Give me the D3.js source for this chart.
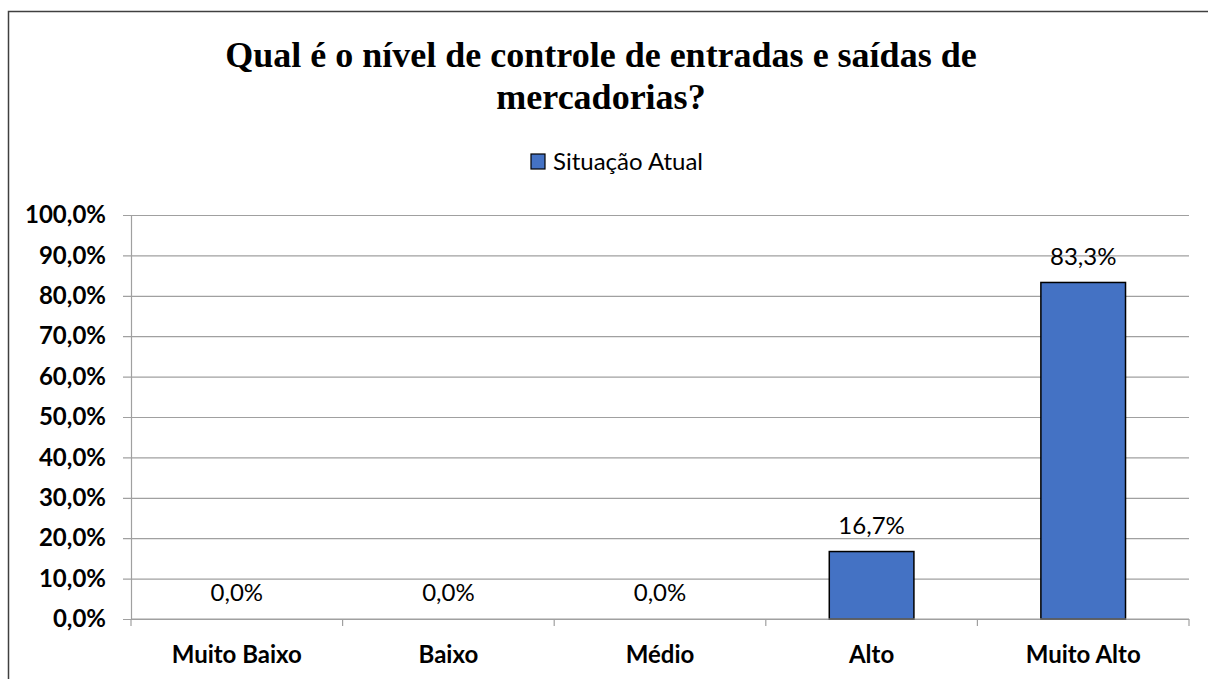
<!DOCTYPE html>
<html>
<head>
<meta charset="utf-8">
<script src="https://cdn.jsdelivr.net/npm/d3@7"></script>
<style>
  html, body { margin: 0; background: #fff; overflow: hidden; }
  svg { display: block; overflow: hidden; }
  .tick text { font-family: Lato, "Open Sans", sans-serif; font-weight: bold; font-size: 24px; fill: #000; }
</style>
</head>
<body>
<svg id="chart" width="1208" height="679"></svg>
<script>
// Chart data
const categories = ["Muito Baixo", "Baixo", "Médio", "Alto", "Muito Alto"];
const values = [0.0, 0.0, 0.0, 16.7, 83.3];
const seriesName = "Situação Atual";
const titleLines = ["Qual é o nível de controle de entradas e saídas de", "mercadorias?"];
const yTicks = [0, 10, 20, 30, 40, 50, 60, 70, 80, 90, 100];

const node = d3.select("#chart"),
      margin = {top: 215, right: 19, bottom: 60, left: 131},
      width = 1208 - margin.left - margin.right,
      height = 619 - margin.top;

const fmt = (v) => d3.format(".1f")(v).replace(".", ",") + "%";

// outer frame: only the top and left edges fall inside the picture
node.append("path")
  .attr("d", "M8.5,679 L8.5,11.5 L1208,11.5")
  .attr("fill", "none")
  .attr("stroke", "#404040")
  .attr("stroke-width", 1.5);

// title
node.append("text")
  .attr("x", 601)
  .attr("y", 67)
  .attr("text-anchor", "middle")
  .style("font", "bold 36px 'Liberation Serif', 'Times New Roman', serif")
  .selectAll("tspan")
  .data(titleLines)
  .enter()
  .append("tspan")
  .attr("x", 601)
  .attr("dy", (d, i) => i === 0 ? 0 : 42)
  .text((d) => d);

// legend
const legend = node.append("g").attr("transform", "translate(531, 154)");
legend.append("rect")
  .attr("width", 14).attr("height", 15)
  .attr("fill", "#4472C4")
  .attr("stroke", "#000")
  .attr("stroke-width", 1.2);
legend.append("text")
  .attr("x", 22)
  .attr("y", 8)
  .attr("dy", "0.35em")
  .style("font", "24px Lato, 'Open Sans', sans-serif")
  .text(seriesName);

const g = node.append("g")
  .attr("transform", `translate(${margin.left}, ${margin.top})`);

const xScale = d3.scaleBand().domain(categories).range([0, width]).padding(0),
      yScale = d3.scaleLinear().domain([0, 100]).range([height, 0]);

// gridlines + y axis
const yAxis = g.append("g")
  .call(d3.axisLeft(yScale).tickValues(yTicks).tickSize(8).tickPadding(17).tickFormat(fmt));
yAxis.select(".domain").attr("stroke", "#a0a0a0").attr("stroke-width", 1.2);
yAxis.selectAll(".tick line").attr("stroke", "#a0a0a0").attr("stroke-width", 1.2)
  .attr("x1", -8).attr("x2", width);

// x axis (ticks at band edges)
const xAxis = g.append("g")
  .attr("transform", `translate(0, ${height})`);
xAxis.selectAll("line.edge")
  .data(d3.range(categories.length + 1))
  .enter()
  .append("line")
  .attr("class", "edge")
  .attr("x1", (i) => i * xScale.step())
  .attr("x2", (i) => i * xScale.step())
  .attr("y1", 0).attr("y2", 7)
  .attr("stroke", "#a0a0a0").attr("stroke-width", 1.2);
xAxis.selectAll("text")
  .data(categories)
  .enter()
  .append("text")
  .attr("x", (d) => xScale(d) + xScale.bandwidth() / 2)
  .attr("y", 36)
  .attr("dy", "0.35em")
  .attr("text-anchor", "middle")
  .style("font", "bold 24px Lato, 'Open Sans', sans-serif")
  .text((d) => d);

// bars
const barW = xScale.bandwidth() * 0.4;
g.selectAll("rect.bar")
  .data(values)
  .enter()
  .append("rect")
  .attr("class", "bar")
  .attr("x", (d, i) => xScale(categories[i]) + (xScale.bandwidth() - barW) / 2)
  .attr("y", (d) => yScale(d))
  .attr("width", barW)
  .attr("height", (d) => height - yScale(d))
  .attr("fill", "#4472C4")
  .attr("stroke", "#000")
  .attr("stroke-width", (d) => d > 0 ? 1.5 : 0);

// data labels
g.selectAll("text.label")
  .data(values)
  .enter()
  .append("text")
  .attr("class", "label")
  .attr("x", (d, i) => xScale(categories[i]) + xScale.bandwidth() / 2)
  .attr("y", (d) => yScale(d) - 26)
  .attr("dy", "0.35em")
  .attr("text-anchor", "middle")
  .style("font", "24px Lato, 'Open Sans', sans-serif")
  .text((d) => fmt(d));

// axis line drawn last so it sits over bar bottoms
g.append("line")
  .attr("x1", 0).attr("x2", width)
  .attr("y1", height).attr("y2", height)
  .attr("stroke", "#a0a0a0").attr("stroke-width", 1.2);
</script>
</body>
</html>
